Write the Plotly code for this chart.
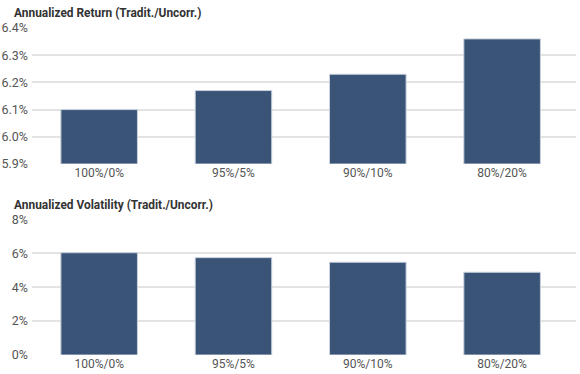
import plotly.graph_objects as go
from plotly.subplots import make_subplots

categories = ["100%/0%", "95%/5%", "90%/10%", "80%/20%"]
annualized_return = [6.10, 6.17, 6.23, 6.36]
annualized_volatility = [6.03, 5.74, 5.47, 4.88]
title_return = "Annualized Return (Tradit./Uncorr.)"
title_volatility = "Annualized Volatility (Tradit./Uncorr.)"
return_base = 5.9

BAR = "#3a5478"
EDGE = "#c9d1dd"
GRID = "#e3e3e3"
FONT = "Roboto, sans-serif"

W, H = 580, 374


def px(x):
    return x / W


def py(y):
    return 1 - y / H


fig = make_subplots(rows=2, cols=1)
fig.add_trace(go.Bar(x=categories, y=[v - return_base for v in annualized_return], base=return_base,
                     marker=dict(color=BAR, line=dict(color=EDGE, width=1)),
                     width=0.57, showlegend=False), row=1, col=1)
fig.add_trace(go.Bar(x=categories, y=annualized_volatility,
                     marker=dict(color=BAR, line=dict(color=EDGE, width=1)),
                     width=0.57, showlegend=False), row=2, col=1)

xd = [px(32), px(576)]
common_x = dict(range=[-0.5, 3.55], showgrid=False, showline=False, ticks="", automargin=False,
                tickfont=dict(size=12, color="#555555"))
common_y = dict(gridcolor=GRID, gridwidth=2, zeroline=False, showline=False, ticks="", automargin=False,
                tickfont=dict(size=12.5, color="#555555"), ticklabelstandoff=3)
fig.update_layout(
    width=W, height=H, margin=dict(l=0, r=0, t=0, b=0, autoexpand=False),
    plot_bgcolor="white", paper_bgcolor="white",
    font=dict(family=FONT, size=12, color="#555555"),
    xaxis=dict(domain=xd, anchor="y", **common_x),
    yaxis=dict(domain=[py(164), py(28)], anchor="x", range=[5.9, 6.4], dtick=0.1,
               tickformat=".1f", ticksuffix="%", **common_y),
    xaxis2=dict(domain=xd, anchor="y2", **common_x),
    yaxis2=dict(domain=[py(355), py(219.3)], anchor="x2", range=[0, 8], dtick=2,
                tickformat="d", ticksuffix="%", **common_y),
    annotations=[
        dict(text="<b>" + title_return + "</b>", xref="paper", yref="paper", x=px(12), y=py(13),
             xanchor="left", yanchor="middle", showarrow=False, font=dict(size=11.9, color="#333333", family=FONT)),
        dict(text="<b>" + title_volatility + "</b>", xref="paper", yref="paper", x=px(12), y=py(205),
             xanchor="left", yanchor="middle", showarrow=False, font=dict(size=11.9, color="#333333", family=FONT)),
    ],
)
fig.write_html("out.html", config={"displayModeBar": False},
               post_script="document.body.style.margin='0';")
